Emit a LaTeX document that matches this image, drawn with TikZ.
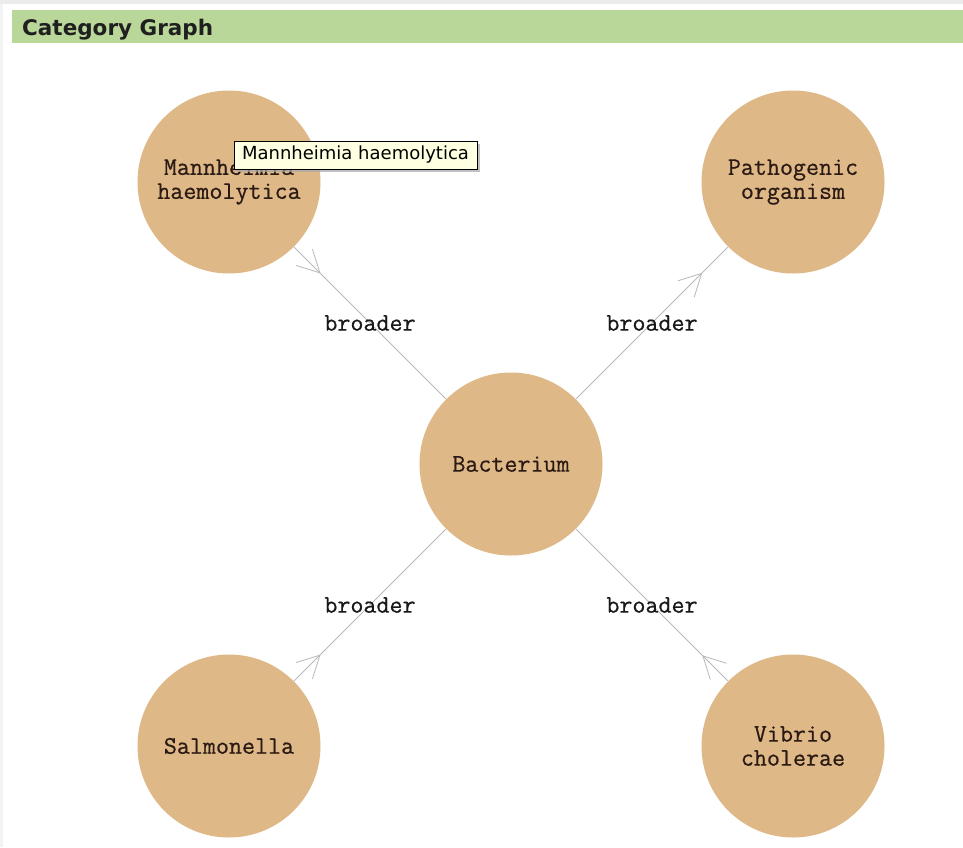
\documentclass[tikz,border=0pt]{standalone}
\usepackage{fontspec}
\setmainfont{DejaVu Sans}
\newfontfamily\tipfont{DejaVu Sans}
\newfontfamily\conceptfont[FakeBold=0.6]{Latin Modern Mono}
\usetikzlibrary{arrows.meta,decorations.markings,shadows}

\definecolor{barGreen}{HTML}{BAD79A}
\definecolor{nodeFill}{HTML}{DEB887}
\definecolor{edgeGray}{HTML}{B9B9B9}
\definecolor{nodeInk}{HTML}{2B1A14}
\definecolor{tipFill}{HTML}{FFFFE1}
\definecolor{frameGray}{HTML}{EBEBEB}

\tikzset{
  concept/.style={circle, fill=nodeFill, draw=none, minimum size=183pt, inner sep=0pt,
    text=nodeInk, align=center, font=\conceptfont\fontsize{25.3}{24}\selectfont},
  relation/.style={draw=edgeGray, line width=0.8pt},
  barbhead/.style={postaction={decorate, decoration={markings,
    mark=at position #1 with {\arrow[edgeGray]{Straight Barb[length=22pt,width=23pt,line width=0.8pt]}}}}},
  edgelabel/.style={midway, text=black!90, inner sep=0pt, font=\conceptfont\fontsize{25.3}{24}\selectfont},
  tooltip/.style={draw=black, line width=0.9pt, fill=tipFill, minimum width=243pt, minimum height=28pt,
    inner sep=0pt, font=\tipfont\fontsize{18}{20}\selectfont,
    drop shadow={shadow xshift=3pt, shadow yshift=-3pt, fill=black!35, opacity=0.7}},
}

\begin{document}
\begin{tikzpicture}[x=1pt, y=-1pt]
  % canvas
  \fill[white] (0,0) rectangle (963,847);
  \useasboundingbox (0,0) rectangle (963,847);
  \fill[frameGray] (0,0) rectangle (963,4);
  \fill[frameGray!60] (0,4) rectangle (3,847);

  % panel header
  \fill[barGreen] (12,10) rectangle (963,43);
  \node[anchor=base west, inner sep=0pt, text=black!88, font=\bfseries\fontsize{21.5}{24}\selectfont]
    (title) at (22,35) {Category Graph};

  % concepts
  \node[concept] (man) at (229,182) {Mannheimia\\haemolytica};
  \node[concept] (pat) at (793,182) {Pathogenic\\organism};
  \node[concept] (bac) at (511,464) {Bacterium};
  \node[concept] (sal) at (229,746) {Salmonella};
  \node[concept] (vib) at (793,746) {Vibrio\\cholerae};

  % broader relations
  \draw[relation, barbhead=0.175] (man) -- (bac) node[edgelabel] (l1) {broader};
  \draw[relation, barbhead=0.83]  (bac) -- (pat) node[edgelabel] (l2) {broader};
  \draw[relation, barbhead=0.175] (sal) -- (bac) node[edgelabel] (l3) {broader};
  \draw[relation, barbhead=0.17]  (vib) -- (bac) node[edgelabel] (l4) {broader};

  % hover tooltip
  \node[tooltip] (tip) at (355.5,155) {Mannheimia haemolytica};
\end{tikzpicture}
\end{document}
